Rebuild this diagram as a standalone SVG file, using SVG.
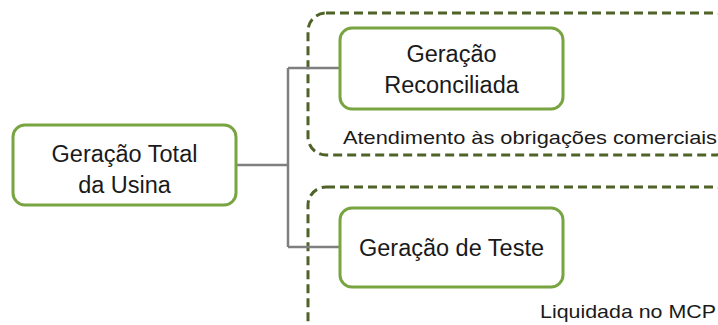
<svg xmlns="http://www.w3.org/2000/svg" width="718" height="325" viewBox="0 0 718 325">
<style>
.node{fill:#fff;stroke:#78a542;stroke-width:3}
.grp{fill:none;stroke:#4f6228;stroke-width:3;stroke-dasharray:9 5}
.t{font-family:"Liberation Sans",Arial,sans-serif;font-size:23.5px;fill:#1a1a1a;text-anchor:middle}
.lbl{font-family:"Liberation Sans",Arial,sans-serif;font-size:19px;fill:#1a1a1a}
.c{fill:none;stroke:#7f7f7f;stroke-width:2.5}
</style>
<rect width="718" height="325" fill="#fff"/>
<g id="grupo-atendimento">
<rect class="grp" x="308" y="13" width="425" height="142" rx="18"/>
<text class="lbl" x="343" y="144" textLength="374" lengthAdjust="spacingAndGlyphs">Atendimento às obrigações comerciais</text>
</g>
<g id="grupo-mcp">
<rect class="grp" x="308" y="187" width="425" height="160" rx="18"/>
<text class="lbl" x="540" y="318" textLength="176" lengthAdjust="spacingAndGlyphs">Liquidada no MCP</text>
</g>
<g id="connectors">
<path class="c" d="M237 165 H288 M288 68 V247 M288 68 H340 M288 247 H340"/>
</g>
<g id="geracao-total">
<rect class="node" x="13" y="125" width="223" height="80" rx="12"/>
<text class="t" x="124.5" y="162">Geração Total</text>
<text class="t" x="124.5" y="193">da Usina</text>
</g>
<g id="geracao-reconciliada">
<rect class="node" x="340" y="28" width="223" height="81" rx="12"/>
<text class="t" x="451.5" y="62">Geração</text>
<text class="t" x="451.5" y="93">Reconciliada</text>
</g>
<g id="geracao-teste">
<rect class="node" x="340" y="208" width="223" height="79" rx="12"/>
<text class="t" x="451.5" y="256">Geração de Teste</text>
</g>
</svg>
